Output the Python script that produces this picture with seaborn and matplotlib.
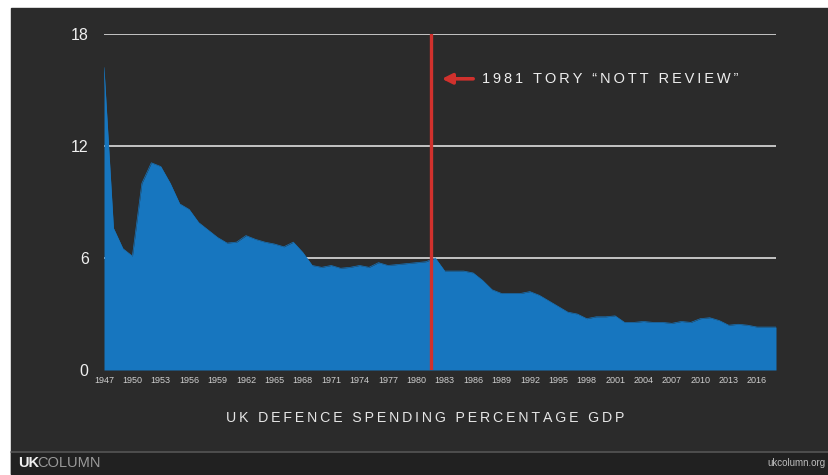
import numpy as np
import pandas as pd
import seaborn as sns
import matplotlib.pyplot as plt
from matplotlib.patches import Rectangle
from matplotlib.lines import Line2D

# UK defence spending, % of GDP
years = list(range(1947, 2019))
spend = [16.2, 7.6, 6.5, 6.1, 10.0, 11.1, 10.9, 10.0, 8.9, 8.6,
         7.9, 7.5, 7.1, 6.8, 6.85, 7.2, 7.0, 6.85, 6.75, 6.6,
         6.85, 6.3, 5.6, 5.5, 5.6, 5.45, 5.5, 5.6, 5.5, 5.75,
         5.6, 5.65, 5.7, 5.75, 5.8, 6.0, 5.3, 5.3, 5.3, 5.2,
         4.8, 4.3, 4.1, 4.1, 4.1, 4.2, 4.0, 3.7, 3.4, 3.1,
         3.0, 2.75, 2.85, 2.85, 2.9, 2.55, 2.55, 2.6, 2.55, 2.55,
         2.5, 2.6, 2.55, 2.75, 2.8, 2.65, 2.4, 2.45, 2.4, 2.3,
         2.3, 2.3]
xticks = list(range(1947, 2017, 3))
yticks = [0, 6, 12, 18]
nott_year = 1981.5
annot = "1981 TORY \u201cNOTT REVIEW\u201d"
title = "UK DEFENCE SPENDING PERCENTAGE GDP"

df = pd.DataFrame({"year": years, "spend": spend})

BG = "#2b2b2b"
BLUE = "#1776bf"
RED = "#d0312d"


def spaced(s, gap="\u2009"):
    return gap.join(s)


sns.set_style("dark")
plt.rcParams["font.family"] = ["Liberation Sans", "DejaVu Sans"]
fig = plt.figure(figsize=(8.29, 4.75), dpi=100, facecolor="white")

# dark slide panel + footer
fig.patches.append(Rectangle((11 / 829, 1 / 475), 817 / 829, 466 / 475,
                             transform=fig.transFigure, color=BG, zorder=-3))
fig.patches.append(Rectangle((11 / 829, 1 / 475), 817 / 829, 22 / 475,
                             transform=fig.transFigure, color="#212121", zorder=-2))
fig.lines.append(Line2D([11 / 829, 828 / 829], [23 / 475, 23 / 475],
                        transform=fig.transFigure, color="#555555", lw=1.2))

ax = fig.add_axes([104 / 829, 105 / 475, 672 / 829, 336 / 475])
ax.set_facecolor(BG)
for s in ax.spines.values():
    s.set_visible(False)

sns.lineplot(data=df, x="year", y="spend", color=BLUE, lw=0.5, ax=ax)
ax.fill_between(df["year"], df["spend"], 0, color=BLUE, lw=0, zorder=2)

for v in yticks[1:]:
    ax.axhline(v, color="#c4c4c4", lw=1.4, zorder=1)
ax.grid(False)

ax.axvline(nott_year, color=RED, lw=2.4, zorder=4)

ax.set_xlim(1947, 2018)
ax.set_ylim(0, 18)
ax.set_xticks(xticks)
ax.set_xticklabels([str(y) for y in xticks], fontsize=6.5, color="#cfcfcf")
ax.set_yticks(yticks)
ax.set_yticklabels([str(v) for v in yticks], fontsize=11.5, color="#f0f0f0")
ax.tick_params(axis="x", length=0, pad=4)
ax.tick_params(axis="y", length=0, pad=11)
ax.set_xlabel("")
ax.set_ylabel("")

# annotation arrow + text
ax.annotate("", xy=(1982.4, 15.6), xytext=(1986.3, 15.6),
            arrowprops=dict(arrowstyle="-|>,head_length=0.6,head_width=0.3",
                            color=RED, lw=2.6))
ax.text(1986.9, 15.6, spaced(annot), color="#eeeeee", fontsize=10.5,
        va="center", ha="left")

fig.text(425 / 829, 1 - 418 / 475, spaced(title), color="#e6e6e6",
         fontsize=10.2, ha="center", va="center")

# footer branding
fig.text(18 / 829, 1 - 463 / 475, "UK", color="#f0f0f0", fontsize=10.5,
         fontweight="bold", va="center", ha="left")
fig.text(37 / 829, 1 - 463 / 475, "COLUMN", color="#9a9a9a", fontsize=10.5,
         va="center", ha="left")
fig.text(826 / 829, 1 - 463 / 475, "ukcolumn.org", color="#bdbdbd",
         fontsize=7, va="center", ha="right")

fig.savefig("out.png", dpi=100, facecolor="white")
